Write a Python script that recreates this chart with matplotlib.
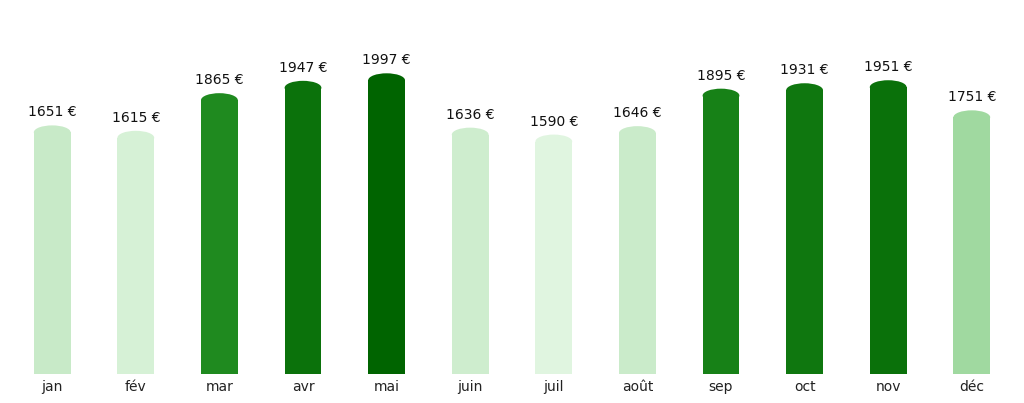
import numpy as np
import matplotlib
matplotlib.use("Agg")
import matplotlib.pyplot as plt
from matplotlib.patches import Ellipse
from matplotlib.colors import LinearSegmentedColormap, Normalize

months = ["jan", "fév", "mar", "avr", "mai", "juin",
          "juil", "août", "sep", "oct", "nov", "déc"]
amounts = [1651, 1615, 1865, 1947, 1997, 1636,
           1590, 1646, 1895, 1931, 1951, 1751]

# light green for low months, dark green for high ones
cmap = LinearSegmentedColormap.from_list(
    "money_greens",
    [(0.0, "#e0f5e0"), (0.396, "#a0d9a0"), (0.676, "#1e8a1e"), (1.0, "#006400")],
)
norm = Normalize(vmin=min(amounts), vmax=max(amounts))

fig = plt.figure(figsize=(10.24, 4.03), dpi=100)
ax = fig.add_axes([0.002, 0.072, 0.996, 0.878])

x = np.arange(len(months))
width = 0.44
cap = 46  # half-height of the rounded top, in data units

for xi, val in zip(x, amounts):
    color = cmap(norm(val))
    ax.bar(xi, val - cap, width=width, color=color, edgecolor="none")
    ax.add_patch(Ellipse((xi, val - cap), width, 2 * cap,
                         facecolor=color, edgecolor="none"))
    ax.text(xi, val + 40, f"{val} €", ha="center", va="bottom",
            fontsize=10, color="#111111")

ax.set_xlim(-0.6, len(months) - 0.4)
ax.set_ylim(0, 2350)
ax.set_xticks(x)
ax.set_xticklabels(months, fontsize=10, color="#222222")
ax.tick_params(axis="x", length=0, pad=4)
ax.set_yticks([])
for side in ax.spines.values():
    side.set_visible(False)

fig.savefig("out.png", dpi=100)
